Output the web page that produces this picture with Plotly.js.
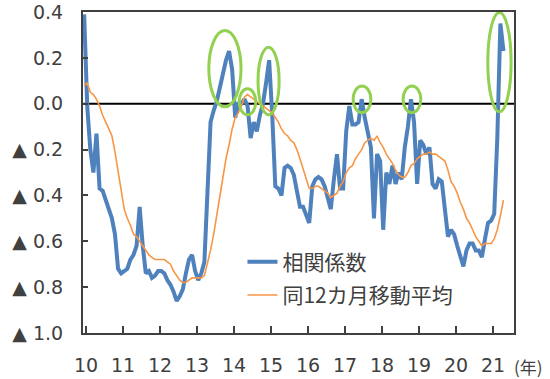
<!DOCTYPE html>
<html><head><meta charset="utf-8">
<script src="https://cdn.plot.ly/plotly-3.0.1.min.js"></script>
<style>html,body{margin:0;padding:0;background:#fff}#chart{width:550px;height:379px}</style>
</head><body><div id="chart"></div>
<script>
// Monthly series from Jan 2010 (x in years since 2000, "10" = 2010)
var startYear = 9.95;
var corr = [
 0.39,-0.01,-0.20,-0.30,-0.13,-0.37,-0.38,-0.42,-0.47,-0.50,
 -0.57,-0.72,-0.74,-0.73,-0.72,-0.68,-0.66,-0.62,-0.45,-0.62,
 -0.74,-0.73,-0.76,-0.75,-0.73,-0.73,-0.74,-0.77,-0.79,-0.82,
 -0.86,-0.84,-0.81,-0.74,-0.68,-0.66,-0.73,-0.77,-0.74,-0.69,
 -0.38,-0.08,-0.03,0.01,0.07,0.13,0.19,0.23,0.15,-0.06,
 0.00,0.00,0.02,-0.01,-0.15,-0.08,-0.12,-0.05,0.00,0.09,
 0.19,-0.05,-0.36,-0.37,-0.40,-0.28,-0.27,-0.28,-0.31,-0.38,
 -0.45,-0.45,-0.49,-0.52,-0.36,-0.33,-0.32,-0.33,-0.36,-0.41,
 -0.46,-0.33,-0.22,-0.37,-0.37,-0.12,-0.01,-0.09,-0.09,-0.08,
 0.02,-0.06,-0.12,-0.19,-0.50,-0.22,-0.25,-0.55,-0.30,-0.35,
 -0.27,-0.35,-0.30,-0.33,-0.19,-0.10,0.02,-0.08,-0.35,-0.16,
 -0.18,-0.22,-0.19,-0.35,-0.37,-0.33,-0.34,-0.45,-0.58,-0.55,
 -0.57,-0.62,-0.66,-0.71,-0.64,-0.61,-0.61,-0.64,-0.64,-0.67,
 -0.59,-0.52,-0.51,-0.48,-0.15,0.35,0.23
];
var ma12 = [
 0.08,0.09,0.05,0.04,0.02,-0.01,-0.05,-0.08,-0.11,-0.14,
 -0.21,-0.29,-0.38,-0.46,-0.50,-0.53,-0.57,-0.58,-0.60,-0.62,
 -0.64,-0.66,-0.67,-0.68,-0.68,-0.68,-0.68,-0.69,-0.70,-0.73,
 -0.75,-0.77,-0.78,-0.78,-0.77,-0.76,-0.76,-0.76,-0.76,-0.75,
 -0.70,-0.64,-0.57,-0.49,-0.41,-0.32,-0.24,-0.18,-0.11,-0.06,
 -0.04,-0.01,0.03,0.04,0.03,0.02,0.01,0.00,-0.01,-0.02,
 -0.03,-0.04,-0.06,-0.08,-0.11,-0.13,-0.14,-0.16,-0.17,-0.20,
 -0.24,-0.28,-0.33,-0.37,-0.37,-0.36,-0.36,-0.37,-0.38,-0.39,
 -0.41,-0.40,-0.39,-0.36,-0.34,-0.30,-0.28,-0.27,-0.24,-0.22,
 -0.20,-0.17,-0.16,-0.15,-0.16,-0.14,-0.17,-0.19,-0.22,-0.24,
 -0.26,-0.29,-0.31,-0.32,-0.32,-0.30,-0.27,-0.26,-0.24,-0.23,
 -0.22,-0.22,-0.21,-0.22,-0.22,-0.23,-0.24,-0.25,-0.29,-0.34,
 -0.36,-0.39,-0.43,-0.46,-0.50,-0.52,-0.55,-0.58,-0.60,-0.62,
 -0.61,-0.61,-0.61,-0.59,-0.55,-0.49,-0.42
];
var yearTicks = [10,11,12,13,14,15,16,17,18,19,20,21];
var yearLabels = ["10","11","12","13","14","15","16","17","18","19","20","21"];
var yTicks = [0.4,0.2,0.0,-0.2,-0.4,-0.6,-0.8,-1.0];
var yLabels = ["0.4","0.2","0.0","▲ 0.2","▲ 0.4","▲ 0.6","▲ 0.8","▲ 1.0"];
var seriesNames = ["相関係数","同12カ月移動平均"];
// highlighted peaks: [x0, x1, y0, y1]
var highlights = [
 [13.32,14.19,-0.013,0.32],
 [14.14,14.59,-0.048,0.065],
 [14.65,15.22,-0.048,0.247],
 [17.22,17.70,-0.039,0.078],
 [18.57,19.05,-0.039,0.078],
 [20.86,21.49,-0.035,0.398]
];

var months = corr.map(function(_, i){ return startYear + i/12; });

var traces = [
 {x: months, y: corr, type:'scatter', mode:'lines', name: seriesNames[0], legendgroup:'a',
  line:{color:'#4F81BD', width:4}},
 {x: months, y: ma12, type:'scatter', mode:'lines', name: seriesNames[1], legendgroup:'b',
  line:{color:'#F79646', width:1.6}}
];

var shapes = [
 {type:'line', xref:'paper', yref:'y', x0:0, x1:1, y0:0, y1:0, line:{color:'#000', width:2}, layer:'below'}
];
highlights.forEach(function(h){
 shapes.push({type:'circle', xref:'x', yref:'y', x0:h[0], x1:h[1], y0:h[2], y1:h[3],
  line:{color:'#92D050', width:3}});
});

var axisFont = {family:'DejaVu Sans, sans-serif', size:19, color:'#404040'};
var layout = {
 width:550, height:379,
 margin:{l:83, r:36, t:12, b:46},
 paper_bgcolor:'#fff', plot_bgcolor:'#fff',
 showlegend:true,
 legend:{x:0.37, y:0.285, xanchor:'left', yanchor:'top', bgcolor:'rgba(0,0,0,0)',
  traceorder:'grouped', tracegroupgap:3,
  font:{family:'Noto Sans CJK JP, sans-serif', size:21, color:'#404040'}},
 xaxis:{range:[9.919,21.568], tickvals:yearTicks, ticktext:yearLabels,
  ticks:'inside', ticklen:7, tickwidth:2, tickcolor:'#404040',
  showline:true, linewidth:2, linecolor:'#404040', mirror:true,
  showgrid:false, zeroline:false, tickfont:{family:'DejaVu Sans, sans-serif', size:19, color:'#404040'},
  ticklabelstandoff:14, ticklabeloverflow:'allow'},
 yaxis:{range:[-1.0005,0.4005], tickvals:yTicks, ticktext:yLabels,
  ticks:'inside', ticklen:5, tickwidth:2, tickcolor:'#404040',
  showline:true, linewidth:2, linecolor:'#404040', mirror:true,
  showgrid:false, zeroline:false, tickfont:axisFont, ticklabelstandoff:14,
  ticklabeloverflow:'allow'},
 shapes: shapes,
 annotations:[
  {xref:'paper', yref:'paper', x:0.995, y:-0.105, xanchor:'left', yanchor:'middle',
   text:'(年)', showarrow:false, font:{family:'Noto Sans CJK JP, sans-serif', size:17, color:'#404040'}}
 ]
};
Plotly.newPlot('chart', traces, layout, {displayModeBar:false, staticPlot:true});
</script></body></html>
